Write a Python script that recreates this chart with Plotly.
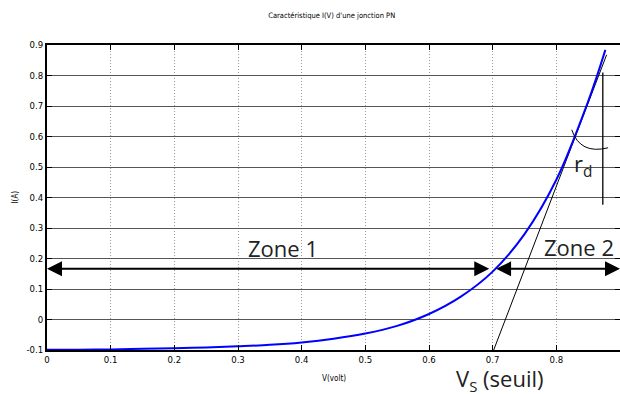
import plotly.graph_objects as go

# Diode current-voltage characteristic I(V)
voltage = [0.0, 0.05, 0.1, 0.15, 0.2, 0.25, 0.3, 0.35, 0.4, 0.45, 0.5,
           0.55, 0.6, 0.65, 0.7, 0.75, 0.8, 0.85, 0.877]
current = [-0.099, -0.099, -0.098, -0.096, -0.094, -0.092, -0.088, -0.083,
           -0.075, -0.063, -0.046, -0.021, 0.018, 0.075, 0.157, 0.28,
           0.458, 0.715, 0.884]

# Tangent used to find the threshold voltage, and the vertical r_d marker
tangent_v = [0.7016, 0.879]
tangent_i = [-0.1, 0.868]
rd_v = [0.873, 0.873]
rd_i = [0.81, 0.376]

# Axis ticks
x_ticks = [0, 0.1, 0.2, 0.3, 0.4, 0.5, 0.6, 0.7, 0.8, 0.9]
x_labels = ["0", "0.1", "0.2", "0.3", "0.4", "0.5", "0.6", "0.7", "0.8", "0.9"]
y_ticks = [-0.1, 0, 0.1, 0.2, 0.3, 0.4, 0.5, 0.6, 0.7, 0.8, 0.9]
y_labels = ["-0.1", "0", "0.1", "0.2", "0.3", "0.4", "0.5", "0.6", "0.7", "0.8", "0.9"]

# Zone boundaries and arrow height
zone_y = 0.166
v_seuil = 0.7

NARROW = "Liberation Sans Narrow, Arial Narrow, DejaVu Sans Condensed, sans-serif"
LABEL = "Open Sans, Calibri, sans-serif"

fig = go.Figure()

fig.add_trace(go.Scatter(x=tangent_v, y=tangent_i, mode="lines",
                         line=dict(color="black", width=1), hoverinfo="skip"))
fig.add_trace(go.Scatter(x=rd_v, y=rd_i, mode="lines",
                         line=dict(color="black", width=1.3), hoverinfo="skip"))
fig.add_trace(go.Scatter(x=voltage, y=current, mode="lines", line_shape="spline",
                         line=dict(color="#0000ff", width=2), cliponaxis=False))

# Angle arc between the tangent and the vertical marker
fig.add_shape(type="path", xref="x", yref="y",
              path="M 0.8242,0.622 Q 0.8373,0.540 0.8813,0.563",
              line=dict(color="black", width=1))

# Zone arrows
arrow_common = dict(xref="x", yref="y", axref="x", ayref="y", text="",
                    showarrow=True, arrowhead=2, startarrowhead=2,
                    arrowside="end+start", arrowwidth=2, arrowsize=1.5,
                    startarrowsize=1.5, arrowcolor="black",
                    standoff=0, startstandoff=0)
fig.add_annotation(x=0.0, y=zone_y, ax=v_seuil - 0.003, ay=zone_y, **arrow_common)
fig.add_annotation(x=0.9, y=zone_y, ax=v_seuil + 0.003, ay=zone_y, **arrow_common)

label_font = dict(family=LABEL, size=22, color="#222222")
fig.add_annotation(x=0.37, y=0.236, xref="x", yref="y", text="Zone 1",
                   showarrow=False, font=label_font)
fig.add_annotation(x=0.836, y=0.238, xref="x", yref="y", text="Zone 2",
                   showarrow=False, font=label_font)
fig.add_annotation(x=0.842, y=0.507, xref="x", yref="y", text="r<sub>d</sub>",
                   showarrow=False, font=label_font)
fig.add_annotation(x=0.711, y=0, xref="x", yref="paper", yshift=-29,
                   yanchor="middle", xanchor="center",
                   text="V<sub><span style='font-size:15px'>S</span></sub> (seuil)",
                   showarrow=False, font=label_font)

# Axis titles
small_font = dict(family=NARROW, size=8, color="black")
fig.add_annotation(x=0.5, y=0, xref="paper", yref="paper", yshift=-28,
                   text="V(volt)", showarrow=False, font=small_font, yanchor="middle")
fig.add_annotation(x=0, y=0.5, xref="paper", yref="paper", xshift=-32,
                   text="I(A)", textangle=-90, showarrow=False, font=small_font,
                   xanchor="center")

axis_common = dict(showline=True, linecolor="black", linewidth=2, mirror="ticks",
                   ticks="inside", ticklen=5, tickcolor="black", tickwidth=1,
                   zeroline=False, showgrid=True, automargin=False,
                   tickfont=dict(family=NARROW, size=9.5, color="black"))

fig.update_xaxes(range=[0, 0.9], tickvals=x_ticks, ticktext=x_labels,
                 gridcolor="#9a9a9a", griddash="1px,2px", gridwidth=1, **axis_common)
fig.update_yaxes(range=[-0.1, 0.9], tickvals=y_ticks, ticktext=y_labels,
                 gridcolor="#555555", gridwidth=1, **axis_common)

fig.update_layout(
    template="none",
    width=620, height=394,
    margin=dict(l=47, r=0, t=45, b=44),
    paper_bgcolor="white", plot_bgcolor="white",
    showlegend=False,
    title=dict(text="Caractéristique I(V) d'une jonction PN",
               font=dict(family=NARROW, size=7.5, color="black"),
               x=0.535, xanchor="center", y=1 - 15 / 394, yanchor="middle",
               yref="container"),
)

fig.write_html("out.html")
